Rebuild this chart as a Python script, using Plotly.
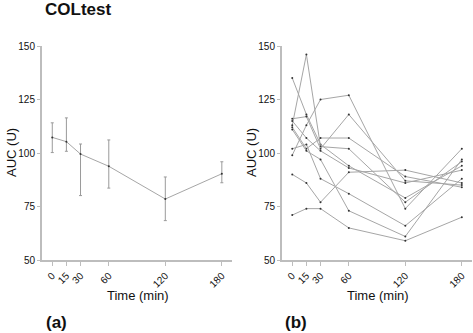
import plotly.graph_objects as go

W, H = 473, 333

times = [0, 15, 30, 60, 120, 180]
tick_labels = ["0", "15", "30", "60", "120", "180"]

# panel (a): mean with asymmetric error bars
mean_auc = [107.3, 105.3, 99.5, 93.8, 78.5, 90.3]
upper_auc = [114.1, 116.4, 104.2, 106.1, 88.8, 95.9]
lower_auc = [100.2, 100.8, 80.1, 83.6, 68.4, 86.1]

# panel (b): individual subjects
subj_1 = [135, 118, 104, 94, 79, 94]
subj_2 = [113, 146, 103, 102, 77, 96]
subj_3 = [99, 113, 125, 127, 74, 102]
subj_4 = [116, 117, 102, 118, 87, 85]
subj_5 = [112, 102, 107, 107, 89, 84]
subj_6 = [115, 107, 101, 93, 86, 92]
subj_7 = [102, 104, 88, 81, 66, 88]
subj_8 = [111, 101, 97, 73, 61, 97]
subj_9 = [90, 86, 77, 91, 92, 86]
subj_10 = [71, 74, 74, 65, 59, 70]
subjects = [subj_1, subj_2, subj_3, subj_4, subj_5, subj_6, subj_7, subj_8, subj_9, subj_10]

y_ticks = [50, 75, 100, 125, 150]

def px_x(p):
    return p / W

def px_y(p):
    return 1 - p / H

LINE = "#a6a6a6"
AXIS = "#bdbdbd"
FONT = "Liberation Sans, Arial, sans-serif"

fig = go.Figure()

fig.add_trace(go.Scatter(
    x=times, y=mean_auc, mode="lines+markers",
    line=dict(color=LINE, width=1),
    marker=dict(color="#333333", size=2),
    error_y=dict(type="data", symmetric=False,
                 array=[u - m for u, m in zip(upper_auc, mean_auc)],
                 arrayminus=[m - l for m, l in zip(mean_auc, lower_auc)],
                 color="#9a9a9a", thickness=1, width=1.5),
    xaxis="x", yaxis="y", showlegend=False, hoverinfo="skip"))

for s in subjects:
    fig.add_trace(go.Scatter(
        x=times, y=s, mode="lines+markers",
        line=dict(color=LINE, width=1),
        marker=dict(color="#333333", size=2),
        xaxis="x2", yaxis="y2", showlegend=False, hoverinfo="skip"))

xrange = [-10.9, 190.8]
common_x = dict(range=xrange, tickmode="array", tickvals=times, ticktext=tick_labels,
                tickangle=-45, showline=True, linecolor=AXIS, linewidth=2,
                ticks="outside", ticklen=4, tickwidth=1, tickcolor=AXIS,
                showgrid=False, zeroline=False, automargin=False,
                tickfont=dict(family=FONT, size=10, color="#111111"))
common_y = dict(range=[50, 150], tickmode="array", tickvals=y_ticks,
                showline=True, linecolor=AXIS, linewidth=2,
                ticks="outside", ticklen=3, tickwidth=1, tickcolor=AXIS,
                showgrid=False, zeroline=False, automargin=False,
                tickfont=dict(family=FONT, size=10, color="#111111"))

ydom = [px_y(260), px_y(46)]
fig.update_layout(
    template="none",
    width=W, height=H,
    margin=dict(l=0, r=0, t=0, b=0),
    paper_bgcolor="white", plot_bgcolor="white",
    font=dict(family=FONT),
    xaxis=dict(domain=[px_x(42), px_x(232)], anchor="y", **common_x),
    yaxis=dict(domain=ydom, anchor="x", **common_y),
    xaxis2=dict(domain=[px_x(282), px_x(472)], anchor="y2", **common_x),
    yaxis2=dict(domain=ydom, anchor="x2", **common_y),
)

# bold tick labels
fig.update_xaxes(tickprefix="<b>", ticksuffix="</b>")
fig.update_yaxes(tickprefix="<b>", ticksuffix="</b>")

def ann(text, x, y, size, bold=False, angle=0):
    fig.add_annotation(text=f"<b>{text}</b>" if bold else text,
                       x=px_x(x), y=px_y(y), xref="paper", yref="paper",
                       showarrow=False, textangle=angle,
                       font=dict(family=FONT, size=size, color="#111111"),
                       xanchor="center", yanchor="middle")

ann("COLtest", 78, 10, 17, bold=True)
ann("AUC (U)", 11, 153, 13, angle=-90)
ann("AUC (U)", 251, 153, 13, angle=-90)
ann("Time (min)", 137.5, 295, 13)
ann("Time (min)", 377.5, 295, 13)
ann("(a)", 56, 322, 17, bold=True)
ann("(b)", 296, 322, 17, bold=True)

fig.write_html("out.html")
